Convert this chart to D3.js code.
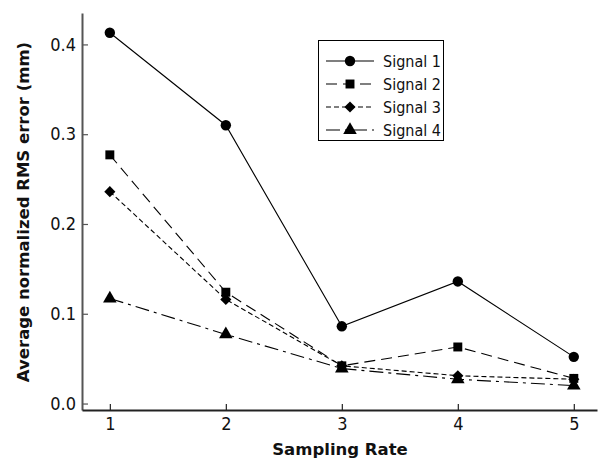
<!DOCTYPE html>
<html>
<head>
<meta charset="utf-8">
<script src="https://cdn.jsdelivr.net/npm/d3@7"></script>
<style>
  body { margin: 0; background: #fff; }
  text { font-family: "DejaVu Sans Condensed", "DejaVu Sans", sans-serif; }
  .tick text { font-size: 18px; fill: #111; }
  .title { font-family: "DejaVu Sans", sans-serif; font-size: 16.5px; font-weight: bold; fill: #111; }
  .legend text { font-size: 16px; fill: #111; }
</style>
</head>
<body>
<div id="chart"></div>
<script>
// data
var rates = [1, 2, 3, 4, 5];
var seriesNames = ["Signal 1", "Signal 2", "Signal 3", "Signal 4"];
var signal1 = [0.413, 0.310, 0.086, 0.136, 0.052];
var signal2 = [0.277, 0.124, 0.042, 0.063, 0.028];
var signal3 = [0.236, 0.116, 0.042, 0.031, 0.027];
var signal4 = [0.117, 0.077, 0.039, 0.027, 0.020];
var yTicks = [0, 0.1, 0.2, 0.3, 0.4];

var width = 601, height = 462;
var svg = d3.select("#chart").append("svg")
    .attr("width", width)
    .attr("height", height);

// scales
var x = d3.scaleLinear().domain([0.76, 5.2]).range([82, 597]);
var y = d3.scaleLinear().domain([-0.0072, 0.435]).range([410, 13]);

// y axis, ticks point inward
var yAxis = d3.axisLeft(y).tickValues(yTicks).tickFormat(d3.format(".1f"))
    .tickSizeInner(-6).tickSizeOuter(0).tickPadding(6);
var gy = svg.append("g").attr("transform", "translate(82,0)").call(yAxis);
gy.select(".domain").attr("stroke", "#555").attr("stroke-width", 2);
gy.selectAll(".tick line").attr("stroke", "#555").attr("stroke-width", 1.2);

// x axis, ticks point up
var xAxis = d3.axisBottom(x).tickValues(rates).tickFormat(d3.format("d"))
    .tickSizeInner(-6).tickSizeOuter(0).tickPadding(7);
var gx = svg.append("g").attr("transform", "translate(0,410)").call(xAxis);
gx.select(".domain").attr("stroke", "#222").attr("stroke-width", 2);
gx.selectAll(".tick line").attr("stroke", "#222").attr("stroke-width", 1.2);

// axis titles
svg.append("text").attr("class", "title")
    .attr("x", 340).attr("y", 455)
    .attr("text-anchor", "middle")
    .text("Sampling Rate");
svg.append("text").attr("class", "title")
    .attr("transform", "translate(29,212) rotate(-90)")
    .attr("text-anchor", "middle")
    .text("Average normalized RMS error (mm)");

// series
var allSeries = [signal1, signal2, signal3, signal4];
var dashes = [null, "11,6", "5,3", "14,5,3,5"];
var symbols = [d3.symbolCircle, d3.symbolSquare, d3.symbolSquare, d3.symbolTriangle];
var symSizes = [85, 80, 62, 80];
var symRot = [0, 0, 45, 0];

var line = d3.line()
    .x(function(d, i) { return x(rates[i]); })
    .y(function(d) { return y(d); });

for (var s = 0; s < allSeries.length; s++) {
    svg.append("path")
        .datum(allSeries[s])
        .attr("fill", "none")
        .attr("stroke", "#000")
        .attr("stroke-width", 1.1)
        .attr("stroke-dasharray", dashes[s])
        .attr("d", line);
    svg.selectAll(".m" + s)
        .data(allSeries[s])
        .enter().append("path")
        .attr("class", "m" + s)
        .attr("transform", function(d, i) {
            return "translate(" + x(rates[i]) + "," + y(d) + ") rotate(" + symRot[s] + ")";
        })
        .attr("d", d3.symbol().type(symbols[s]).size(symSizes[s]))
        .attr("fill", "#000");
}

// legend
var lg = svg.append("g").attr("class", "legend");
lg.append("rect")
    .attr("x", 318.5).attr("y", 40.5)
    .attr("width", 125).attr("height", 100)
    .attr("fill", "#fff").attr("stroke", "#000").attr("stroke-width", 1);
seriesNames.forEach(function(name, s) {
    var ly = 61 + s * 23;
    lg.append("line")
        .attr("x1", 326).attr("x2", 374)
        .attr("y1", ly).attr("y2", ly)
        .attr("stroke", "#000").attr("stroke-width", 1.1)
        .attr("stroke-dasharray", dashes[s]);
    lg.append("path")
        .attr("transform", "translate(350," + ly + ") rotate(" + symRot[s] + ")")
        .attr("d", d3.symbol().type(symbols[s]).size(symSizes[s]))
        .attr("fill", "#000");
    lg.append("text")
        .attr("x", 383).attr("y", ly + 6)
        .text(name);
});
</script>
</body>
</html>
